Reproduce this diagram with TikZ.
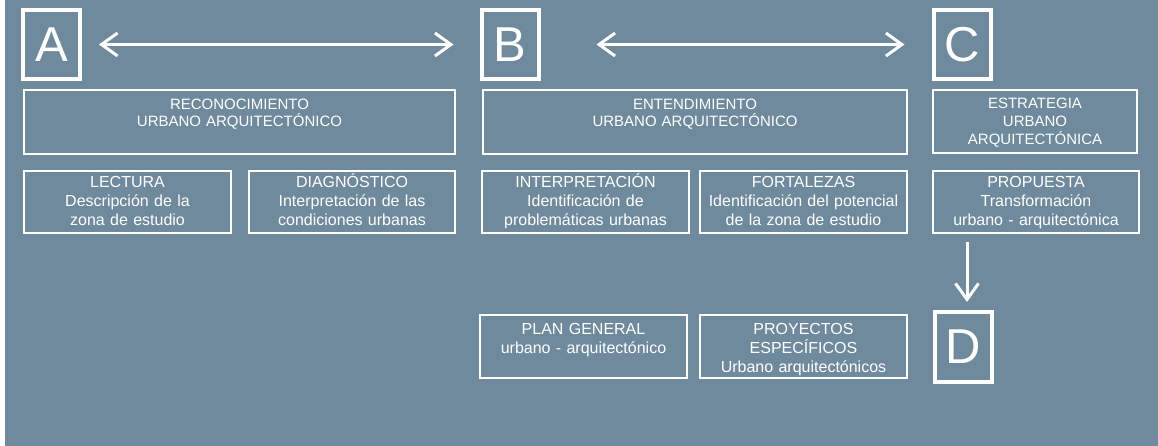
\documentclass[tikz,border=0pt]{standalone}
\usepackage{fontspec}
\setmainfont{Liberation Sans}
\usetikzlibrary{arrows.meta,positioning}
\definecolor{bgblue}{RGB}{110,138,156}
\tikzset{
  >={Straight Barb[length=16pt,width=23pt]},
  lbox/.style={draw=white,line width=4pt,minimum width=57pt,minimum height=69pt,
    inner sep=0pt,text=white,font=\fontsize{49}{49}\selectfont},
  bigbox/.style={draw=white,line width=2pt,anchor=north west,inner xsep=0pt,
    inner ysep=0pt,align=center,text=white,text height=20pt,text depth=44pt,
    font=\fontsize{15}{17}\selectfont},
  subbox/.style={draw=white,line width=2pt,anchor=north west,inner xsep=0pt,
    inner ysep=0pt,align=center,text=white,text width=207pt,text height=17pt,
    text depth=45pt,font=\fontsize{16}{19}\selectfont},
  flow/.style={draw=white,line width=3pt},
}
\begin{document}
\begin{tikzpicture}[x=1pt,y=-1pt]
  \useasboundingbox (0,0) rectangle (1158,446);
  \fill[bgblue] (5,0) rectangle (1158,446);
  % letters
  \node[lbox] (la) at (51.5,44.5) {A};
  \node[lbox] (lb) at (510,44.5) {B};
  \node[lbox] (lc) at (962,44.5) {C};
  \node[lbox,minimum height=70pt] (ld) at (963,347) {D};
  % first row
  \node[bigbox,text width=431pt] (recon) at (23,89) {RECONOCIMIENTO\\URBANO ARQUITECTÓNICO};
  \node[bigbox,text width=424pt] (entend) at (482,89) {ENTENDIMIENTO\\URBANO ARQUITECTÓNICO};
  \node[bigbox,text width=204pt,text height=19pt,font=\fontsize{15}{18}\selectfont] (estrat) at (932,89)
    {ESTRATEGIA\\URBANO\\ARQUITECTÓNICA};
  % second row
  \node[subbox] (lect) at (23,170) {LECTURA\\Descripción de la\\zona de estudio};
  \node[subbox,text width=206pt] (diag) at (248,170) {DIAGNÓSTICO\\Interpretación de las\\condiciones urbanas};
  \node[subbox] (interp) at (481,170) {INTERPRETACIÓN\\Identificación de\\problemáticas urbanas};
  \node[subbox] (fort) at (699,170) {FORTALEZAS\\Identificación del potencial\\de la zona de estudio};
  \node[subbox,text width=206pt] (prop) at (932,170) {PROPUESTA\\Transformación\\urbano - arquitectónica};
  % third row
  \node[subbox,text height=19pt,text depth=44pt] (plan) at (479,314) {PLAN GENERAL\\urbano - arquitectónico};
  \node[subbox,text height=19pt,text depth=44pt] (proy) at (699,314)
    {PROYECTOS\\ESPECÍFICOS\\Urbano arquitectónicos};
  % arrows
  \draw[flow,<->,shorten <=17pt,shorten >=26pt] (la) -- (lb);
  \draw[flow,<->,shorten <=56pt,shorten >=27pt] (lb) -- (lc);
  \draw[flow,->,shorten <=8pt,shorten >=8pt]
    ([xshift=4pt]prop.south -| ld.north) -- ([xshift=4pt]ld.north);
\end{tikzpicture}
\end{document}
